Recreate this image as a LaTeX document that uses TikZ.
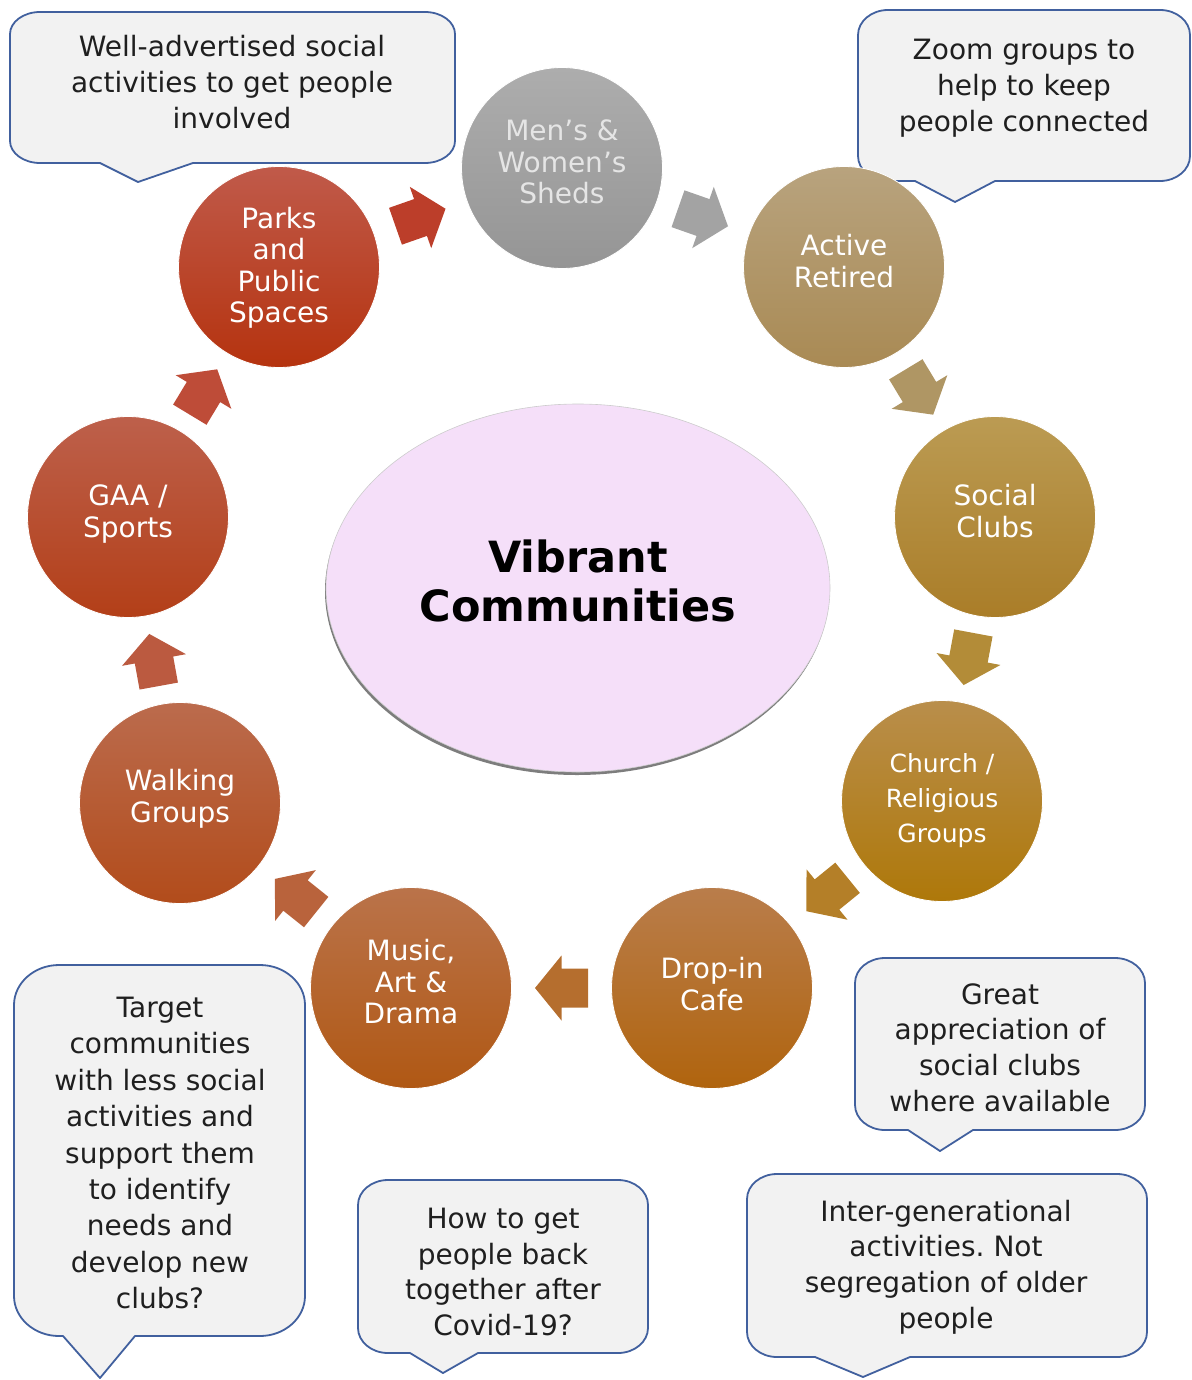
\documentclass[tikz,border=0pt]{standalone}
\usepackage{fontspec}
\setmainfont{DejaVu Sans}
\frenchspacing
\usetikzlibrary{shapes.geometric,calc,shadows}
\definecolor{bubfill}{HTML}{F2F2F2}
\definecolor{bubline}{HTML}{41609E}
\definecolor{hubfill}{HTML}{F5DFF9}
\definecolor{parksT}{HTML}{C05A4A}\definecolor{parksB}{HTML}{B5330F}
\definecolor{shedsT}{HTML}{ADADAD}\definecolor{shedsB}{HTML}{959595}
\definecolor{activeT}{HTML}{B8A37E}\definecolor{activeB}{HTML}{A98A54}
\definecolor{socialT}{HTML}{BB9B53}\definecolor{socialB}{HTML}{AA7D28}
\definecolor{churchT}{HTML}{B98E4B}\definecolor{churchB}{HTML}{AE780A}
\definecolor{cafeT}{HTML}{B97D4B}\definecolor{cafeB}{HTML}{B0640E}
\definecolor{musicT}{HTML}{BA734A}\definecolor{musicB}{HTML}{B05814}
\definecolor{walkT}{HTML}{BB6B4D}\definecolor{walkB}{HTML}{B24C1B}
\definecolor{gaaT}{HTML}{BD604B}\definecolor{gaaB}{HTML}{B33F18}
\definecolor{arA}{HTML}{BC3E2A}
\definecolor{arB}{HTML}{A3A3A3}
\definecolor{arC}{HTML}{AF9664}
\definecolor{arD}{HTML}{B38C38}
\definecolor{arE}{HTML}{B47F28}
\definecolor{arF}{HTML}{B56E2E}
\definecolor{arG}{HTML}{B9633C}
\definecolor{arH}{HTML}{BB5A40}
\definecolor{arI}{HTML}{BE4C38}
\tikzset{
  stage/.style 2 args={circle, minimum size=201, inner sep=0,
    top color=#1, bottom color=#2, draw=white, line width=0.8},
  stagetxt/.style={align=center, text=white, inner sep=0,
    font=\fontsize{28}{31.5}\selectfont},
  bub/.style={draw=bubline, fill=bubfill, line width=1.8, line join=round},
  bubtext/.style={align=center, text=black!88, font=\fontsize{28}{35.8}\selectfont, inner sep=0}
}
% #1 L #2 T #3 R #4 B #5 tail left #6 tip x #7 tip y #8 tail right #9 rx ; \bry = ry
\newcommand\bubble[9]{%
  \draw[bub] (#5,#4) -- ({#1+#9},#4)
    .. controls ({#1+0.45*#9},#4) and (#1,{#4-0.45*\bry}) .. (#1,{#4-\bry})
    -- (#1,{#2+\bry})
    .. controls (#1,{#2+0.45*\bry}) and ({#1+0.45*#9},#2) .. ({#1+#9},#2)
    -- ({#3-#9},#2)
    .. controls ({#3-0.45*#9},#2) and (#3,{#2+0.45*\bry}) .. (#3,{#2+\bry})
    -- (#3,{#4-\bry})
    .. controls (#3,{#4-0.45*\bry}) and ({#3-0.45*#9},#4) .. ({#3-#9},#4)
    -- (#8,#4) -- (#6,#7) -- cycle;}
% block arrow between two named nodes
\newcommand\flowarrow[3]{%
  \fill[#3] let \p1=(#1.center), \p2=(#2.center), \n1={atan2(\y2-\y1,\x2-\x1)},
    \p3=($(\p1)!0.5!(\p2)$) in
    ($(\p3)+(\n1:-26.5pt)+(\n1+90:19.5pt)$) -- ($(\p3)+(\n1+90:19.5pt)$)
    -- ($(\p3)+(\n1+90:32.5pt)$) -- ($(\p3)+(\n1:26.5pt)$)
    -- ($(\p3)+(\n1-90:32.5pt)$) -- ($(\p3)+(\n1-90:19.5pt)$)
    -- ($(\p3)+(\n1:-26.5pt)+(\n1-90:19.5pt)$) -- cycle;}
\begin{document}
\begin{tikzpicture}[x=1pt,y=-1pt]
\useasboundingbox (0,0) rectangle (1191,1380);

% callouts
\def\bry{22}
\bubble{10}{12}{455}{163}{100}{138}{182}{193}{30}
\node[bubtext] (c1) at (232,82) {Well-advertised social\\activities to get people\\involved};
\def\bry{25}
\bubble{858}{10}{1190}{181}{915}{955}{202}{995}{30}
\node[bubtext] (c2) at (1024,88.5) {Zoom groups to\\help to keep\\people connected};
\def\bry{40}
\bubble{14}{965}{305}{1336}{63}{100}{1378}{135}{45}
\node[bubtext, font=\fontsize{28}{36.4}\selectfont] (c3) at (160,1153) {Target\\communities\\with less social\\activities and\\support them\\to identify\\needs and\\develop new\\clubs?};
\def\bry{25}
\bubble{855}{958}{1145}{1130}{908}{940}{1151}{973}{30}
\node[bubtext] (c4) at (1000,1047.5) {Great\\appreciation of\\social clubs\\where available};
\bubble{747}{1174}{1147}{1357}{815}{863}{1377}{910}{30}
\node[bubtext] (c5) at (946,1267) {Inter-generational\\activities. Not\\segregation of older\\people};
\bubble{358}{1180}{648}{1353}{410}{443}{1373}{478}{30}
\node[bubtext] (c6) at (503,1272) {How to get\\people back\\together after\\Covid-19?};

% hub
\node[ellipse, minimum width=504, minimum height=368, fill=hubfill, draw=black!20, line width=0.6,
  drop shadow={shadow xshift=-1pt, shadow yshift=-3pt, fill=black!60, opacity=0.85}] (hub) at (578,588) {};
\node[align=center, font=\fontsize{43}{49}\selectfont\bfseries, inner sep=0] (hubtxt) at ([yshift=7pt]hub.center) {Vibrant\\Communities};

% stages
\node[stage={parksT}{parksB}] (parks) at (279,267) {};
\node[stagetxt] (parkst) at ([yshift=-1pt]parks.center) {Parks\\and\\Public\\Spaces};
\node[stage={shedsT}{shedsB}] (sheds) at (562,168) {};
\node[stagetxt, text=white!90!black] (shedst) at ([yshift=6pt]sheds.center) {Men’s \&\\Women’s\\Sheds};
\node[stage={activeT}{activeB}] (active) at (844,267) {};
\node[stagetxt] (activet) at ([yshift=6pt]active.center) {Active\\Retired};
\node[stage={socialT}{socialB}] (social) at (995,517) {};
\node[stagetxt] (socialt) at ([yshift=6pt]social.center) {Social\\Clubs};
\node[stage={churchT}{churchB}] (church) at (942,801) {};
\node[stagetxt, font=\fontsize{25}{35}\selectfont] (churcht) at (church.center) {Church /\\Religious\\Groups};
\node[stage={cafeT}{cafeB}] (cafe) at (712,988) {};
\node[stagetxt] (cafet) at ([yshift=4pt]cafe.center) {Drop-in\\Cafe};
\node[stage={musicT}{musicB}] (music) at (411,988) {};
\node[stagetxt] (musict) at ([yshift=6pt]music.center) {Music,\\Art \&\\Drama};
\node[stage={walkT}{walkB}] (walking) at (180,803) {};
\node[stagetxt] (walkingt) at ([yshift=4pt]walking.center) {Walking\\Groups};
\node[stage={gaaT}{gaaB}] (gaa) at (128,517) {};
\node[stagetxt] (gaat) at ([yshift=3pt]gaa.center) {GAA /\\Sports};

% arrows
\flowarrow{parks}{sheds}{arA}
\flowarrow{sheds}{active}{arB}
\flowarrow{active}{social}{arC}
\flowarrow{social}{church}{arD}
\flowarrow{church}{cafe}{arE}
\flowarrow{cafe}{music}{arF}
\flowarrow{music}{walking}{arG}
\flowarrow{walking}{gaa}{arH}
\flowarrow{gaa}{parks}{arI}
\end{tikzpicture}
\end{document}
